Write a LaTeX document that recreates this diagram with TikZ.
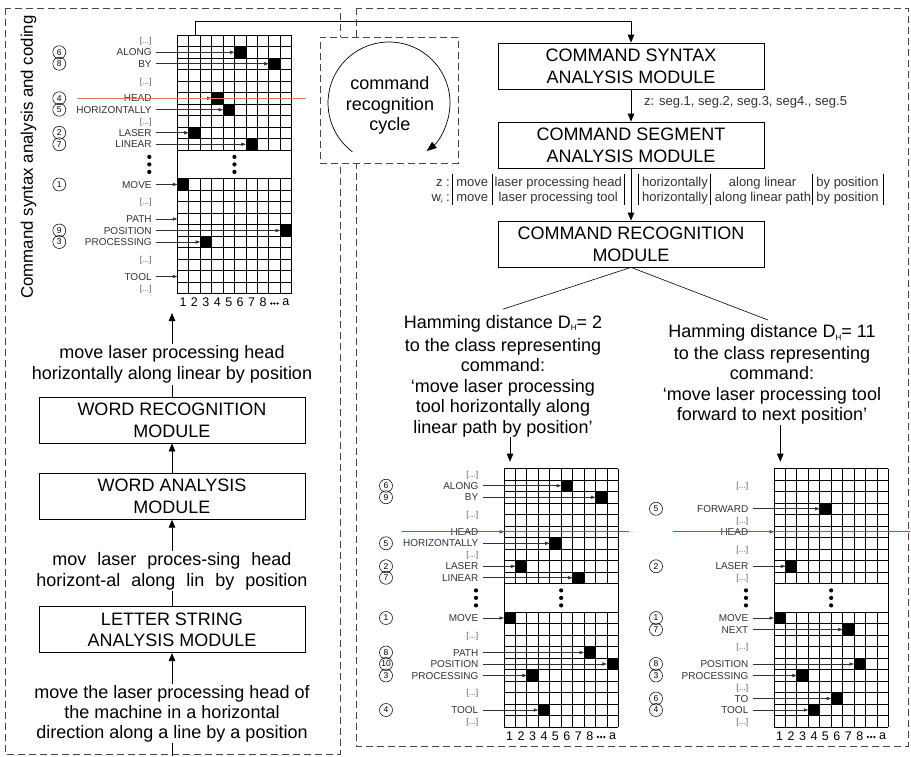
\documentclass[tikz,border=0pt]{standalone}
\usepackage{fontspec}
\setmainfont{Liberation Sans}
\usetikzlibrary{arrows.meta}

\definecolor{labgray}{RGB}{50,50,50}
\definecolor{gapgray}{RGB}{90,90,90}
\definecolor{frameg}{RGB}{70,70,70}
\definecolor{redA}{RGB}{232,118,108}
\definecolor{redB}{RGB}{238,48,40}

\newcommand\wsp{\hspace{11pt}}
\newcommand\lowsub[1]{\raisebox{-2.5pt}{\fontsize{8}{8}\selectfont #1}}

\tikzset{
  every node/.style={inner sep=0pt},
  frame/.style={draw=frameg, line width=0.8pt, dash pattern=on 7pt off 4pt},
  modbox/.style={draw, line width=0.8pt, minimum width=266pt, minimum height=46pt,
    align=center, font=\fontsize{18}{21.7}\selectfont},
  flowtext/.style={align=center, fill=white, inner sep=1pt},
  htext/.style={align=center, font=\fontsize{18}{20.5}\selectfont},
  tabt/.style={font=\fontsize{13}{15}\selectfont, text=labgray, text height=9pt, text depth=0pt},
  plain/.style={line width=0.8pt},
  arr/.style={line width=0.8pt, -{Triangle[length=8pt,width=6.5pt]}},
  gridln/.style={line width=0.75pt},
  warr/.style={line width=0.6pt, draw=labgray, -{Triangle[length=4.5pt,width=3.2pt]}},
  wlabel/.style={anchor=east, font=\fontsize{10}{12}\selectfont, text=labgray,
    text height=7.2pt, text depth=0pt},
  elab/.style={anchor=east, font=\fontsize{8.5}{10}\selectfont, text=gapgray,
    text height=6pt, text depth=0pt},
  cnum/.style={circle, draw, line width=0.55pt, minimum size=13pt,
    font=\fontsize{8.5}{9}\selectfont},
  colnum/.style={font=\fontsize{12.5}{14}\selectfont},
  cycbox/.style={draw=frameg, line width=0.8pt, dash pattern=on 7pt off 4pt, fill=white,
    minimum width=138pt, minimum height=126pt},
  headline/.style={line width=1.2pt},
}

% word grid: 10 columns, two blocks of 10 rows separated by a blank band
\newcommand\wordgrid[1]{%
  \foreach \i in {0,...,10} {
    \draw[gridln] (0,\i*11.5) -- (114.3,\i*11.5);
    \draw[gridln] (0,143.75+\i*11.5) -- (114.3,143.75+\i*11.5);
  }
  \foreach \j in {1,...,9} {
    \draw[gridln] (\j*11.43,0) -- (\j*11.43,115);
    \draw[gridln] (\j*11.43,143.75) -- (\j*11.43,258.75);
  }
  \draw[gridln] (0,0) -- (0,258.75) (114.3,0) -- (114.3,258.75);
  \foreach \d in {-7.5,0,7.5} {
    \fill (57.15,129.4+\d) circle[radius=2.1];
    \fill (-28,129.4+\d) circle[radius=2.1];
  }
  \foreach \n [count=\c from 0] in {1,...,8}
    \node[colnum] (#1-n\n) at (\c*11.43+5.715,267.5) {\n};
  \foreach \d in {-3.2,0,3.2} \fill (8.5*11.43+\d,268.5) circle[radius=1.25];
  \node[colnum] (#1-na) at (9.5*11.43,267.5) {a};
}

% word labels with arrows into the grid (col -1: arrow stops at the grid edge)
\newcommand\gridwords[2]{%
  \foreach \yo/\lab/\col [count=\k] in {#2} {
    \node[wlabel] (#1-w\k) at (-25.5,\yo) {\lab};
    \ifnum\col<0
      \coordinate (#1-t\k) at (0,\yo);
    \else
      \fill (\col*11.43,\yo-5.75) rectangle ++(11.43,11.5);
      \coordinate (#1-t\k) at (\col*11.43,\yo);
    \fi
    \draw[warr] ([xshift=4pt]#1-w\k.east) -- (#1-t\k);
  }
}
\newcommand\gridgaps[2]{%
  \foreach \yo [count=\k] in {#2} \node[elab] (#1-e\k) at (-25.5,\yo) {[...]};
}
\newcommand\gridcircles[2]{%
  \foreach \yo/\num [count=\k] in {#2} \node[cnum] (#1-c\k) at (-118,\yo) {\num};
}

\begin{document}
\begin{tikzpicture}[x=1pt,y=-1pt]
\useasboundingbox (0,0) rectangle (911,756);

% dashed regions
\draw[frame] (5,8) rectangle (340,754);
\draw[frame] (356,8) rectangle (908,746);

% command recognition cycle
\node[cycbox] (cyc) at (389.2,100.3) {};
\node[align=center, font=\fontsize{18}{20.5}\selectfont] (cyct) at (390,105.4)
  {command\\recognition\\cycle};
\coordinate (cyc-a) at (352.3,151.7);
\draw[line width=0.7pt, -{Triangle[length=10pt,width=7.5pt]}]
  (cyc-a) arc[start angle=127, end angle=412, radius=61];

% side caption
\node[rotate=90, font=\fontsize{16.8}{20}\selectfont] (vt) at (28.5,157)
  {Command syntax analysis and coding};

% ---------- top-left grid ----------
\begin{scope}[shift={(177.3,35)}]
  \wordgrid{g1}
  \gridwords{g1}{17.25/ALONG/5, 28.75/BY/8, 63.25/HEAD/3, 74.75/HORIZONTALLY/4,
    97.75/LASER/1, 109.25/LINEAR/6, 149.5/MOVE/0, 184/PATH/-1, 195.5/POSITION/9,
    207/PROCESSING/2, 241.5/TOOL/-1}
  \gridgaps{g1}{5.75, 46, 86.25, 166.75, 224.25, 253}
  \gridcircles{g1}{17.25/6, 28.75/8, 63.25/4, 74.75/5, 97.75/2, 109.25/7,
    149.5/1, 195.5/9, 207/3}
  \coordinate (g1-top) at (17.7,0);
\end{scope}
\draw[redA, headline] (77.3,98.5) -- (305.7,98.5);

% ---------- left processing chain ----------
\node[modbox] (wrm) at (172,420) {WORD RECOGNITION\\MODULE};
\node[modbox] (wam) at (172,496.3) {WORD ANALYSIS\\MODULE};
\node[modbox] (lsm) at (172,629.7) {LETTER STRING\\ANALYSIS MODULE};
\node[flowtext, font=\fontsize{18}{21.6}\selectfont] (t1) at (172,364.3)
  {move laser processing head\\horizontally along linear by position};
\node[flowtext, font=\fontsize{18}{20.7}\selectfont] (t2) at (172,571.4)
  {mov\wsp laser\wsp proces-sing\wsp head\\horizont-al\wsp along\wsp lin\wsp by\wsp position};
\node[flowtext, font=\fontsize{18}{20}\selectfont] (t3) at (172,713.5)
  {move the laser processing head of\\the machine in a horizontal\\direction along a line by a position};
\coordinate (bot) at (172,756);
\coordinate (g1-in) at (172,313);
\draw[plain] (bot) -- (t3.south);
\draw[arr] (t3.north) -- (lsm.south);
\draw[plain] (lsm.north) -- (t2.south);
\draw[arr] (t2.north) -- (wam.south);
\draw[arr] (wam.north) -- (wrm.south);
\draw[plain] (wrm.north) -- (t1.south);
\draw[arr] (t1.north) -- (g1-in);

% ---------- right processing chain ----------
\node[modbox] (syn) at (631,66) {COMMAND SYNTAX\\ANALYSIS MODULE};
\node[modbox] (seg) at (631,145) {COMMAND SEGMENT\\ANALYSIS MODULE};
\node[modbox] (rec) at (631,244) {COMMAND RECOGNITION\\MODULE};
\draw[arr] (g1-top) -- ++(0,-14) -| (syn.north);
\draw[arr] (syn.south) -- (seg.north);
\node[tabt, anchor=west] (zseg) at (644,101) {z: seg.1, seg.2, seg.3, seg4., seg.5};
\draw[arr] (seg.south) -- (rec.north);

% segment comparison table
\node[tabt, anchor=east] (zr) at (450,181.5) {z :};
\node[tabt, anchor=east] (wr) at (450,197) {w\raisebox{-2pt}{\fontsize{7}{7}\selectfont i} :};
\node[tabt] (z1) at (472.2,181.5) {move};
\node[tabt] (w1) at (472.2,197) {move};
\node[tabt] (z2) at (558.2,181.5) {laser processing head};
\node[tabt] (w2) at (558.2,197) {laser processing tool};
\node[tabt] (z3) at (675,181.5) {horizontally};
\node[tabt] (w3) at (675,197) {horizontally};
\node[tabt] (z4) at (762.5,181.5) {along linear};
\node[tabt] (w4) at (763,197) {along linear path};
\node[tabt] (z5) at (847.5,181.5) {by position};
\node[tabt] (w5) at (847.5,197) {by position};
\foreach \xb in {452.5,491.8,624.4,638,710.5,812.6,883}
  \draw[line width=0.6pt] (\xb,174) -- (\xb,205);

% Hamming distance branches
\coordinate (hl) at (502.6,309.3);
\coordinate (hr) at (768,320);
\draw[line width=0.6pt] (rec.south) -- (hl);
\draw[line width=0.6pt] (rec.south) -- (hr);
\node[htext] (h1) at (503,376)
  {Hamming distance D\lowsub{H}= 2\\[2.5pt]to the class representing\\command:\\`move laser processing\\tool horizontally along\\linear path by position'};
\node[htext] (h2) at (772,374.6)
  {Hamming distance D\lowsub{H}= 11\\[1pt]to the class representing\\command:\\`move laser processing tool\\forward to next position'};
\coordinate (g2-in) at (510,461.7);
\coordinate (g3-in) at (780.3,461.7);
\draw[arr, line width=0.6pt] (h1.south -| g2-in) -- (g2-in);
\draw[arr, line width=0.6pt] (h2.south -| g3-in) -- (g3-in);

% ---------- bottom-left grid ----------
\begin{scope}[shift={(504,468.5)}]
  \wordgrid{g2}
  \gridwords{g2}{17.25/ALONG/5, 28.75/BY/8, 63.25/HEAD/-1, 74.75/HORIZONTALLY/4,
    97.75/LASER/1, 109.25/LINEAR/6, 149.5/MOVE/0, 184/PATH/7, 195.5/POSITION/9,
    207/PROCESSING/2, 241.5/TOOL/3}
  \gridgaps{g2}{5.75, 46, 86.25, 166.75, 224.25, 253}
  \gridcircles{g2}{17.25/6, 28.75/9, 74.75/5, 97.75/2, 109.25/7, 149.5/1,
    184/8, 195.5/10, 207/3, 241.5/4}
\end{scope}

% ---------- bottom-right grid ----------
\begin{scope}[shift={(774,468.5)}]
  \wordgrid{g3}
  \gridwords{g3}{40.25/FORWARD/4, 63.25/HEAD/-1, 97.75/LASER/1, 149.5/MOVE/0,
    161/NEXT/6, 195.5/POSITION/7, 207/PROCESSING/2, 230/TO/5, 241.5/TOOL/3}
  \gridgaps{g3}{17.25, 51.75, 80.5, 109.25, 178.25, 218.5, 253}
  \gridcircles{g3}{40.25/5, 97.75/2, 149.5/1, 161/7, 195.5/8, 207/3, 230/6, 241.5/4}
\end{scope}
\draw[redB, headline] (401.7,531.75) -- (629,531.75);
\draw[redB, headline] (672.7,531.75) -- (910,531.75);

\end{tikzpicture}
\end{document}
